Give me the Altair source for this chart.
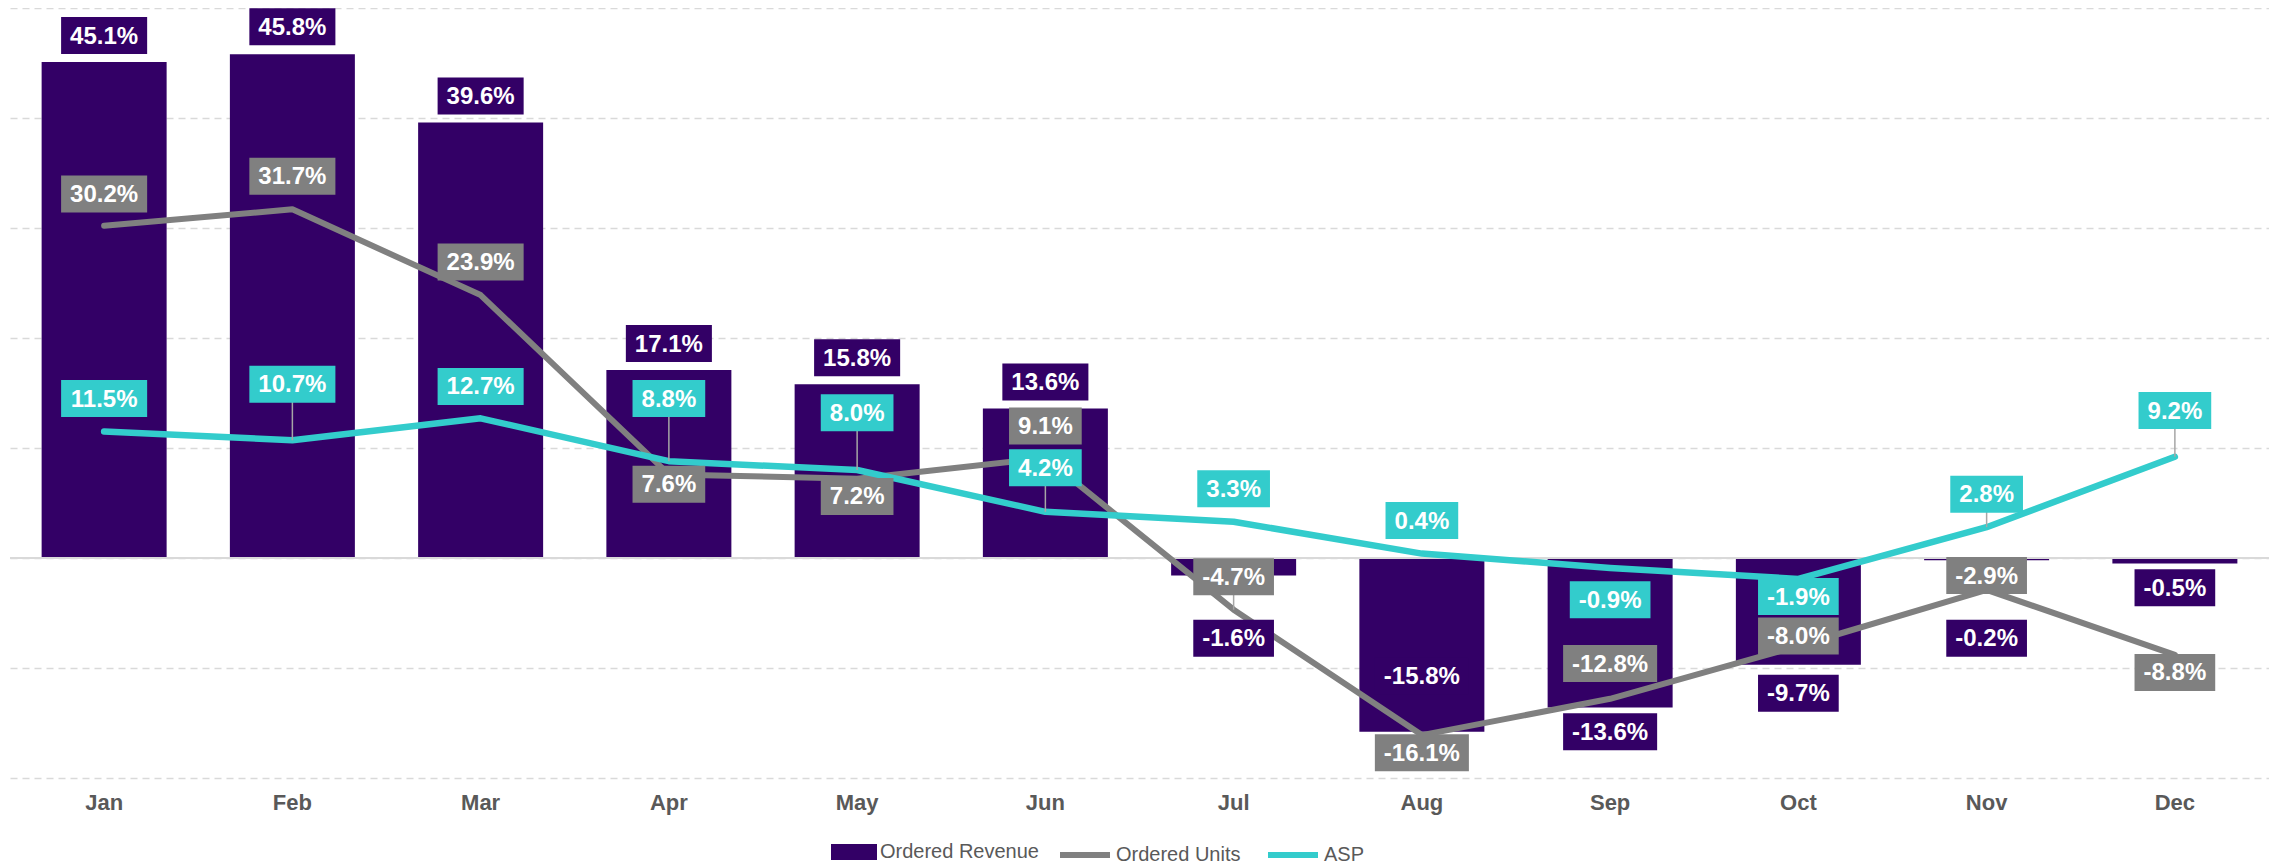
import altair as alt
import pandas as pd

months = ["Jan", "Feb", "Mar", "Apr", "May", "Jun", "Jul", "Aug", "Sep", "Oct", "Nov", "Dec"]
series_names = ["Ordered Revenue", "Ordered Units", "ASP"]
series_colors = ["#330066", "#808080", "#33CCCC"]

revenue = [45.1, 45.8, 39.6, 17.1, 15.8, 13.6, -1.6, -15.8, -13.6, -9.7, -0.2, -0.5]
units = [30.2, 31.7, 23.9, 7.6, 7.2, 9.1, -4.7, -16.1, -12.8, -8.0, -2.9, -8.8]
asp = [11.5, 10.7, 12.7, 8.8, 8.0, 4.2, 3.3, 0.4, -0.9, -1.9, 2.8, 9.2]

# where each data label sits (in % units), as placed in the original
revenue_label_at = [47.5, 48.3, 42.0, 19.5, 18.2, 16.0, -7.3, -10.7, -15.8, -12.3, -7.3, -2.7]
units_label_at = [33.1, 34.7, 26.9, 6.7, 5.6, 12.0, -1.7, -17.7, -9.6, -7.1, -1.6, -10.4]
asp_label_at = [14.5, 15.8, 15.6, 14.5, 13.2, 8.2, 6.3, 3.4, -3.8, -3.5, 5.8, 13.4]

# labels drawn with a leader line
units_leaders = ["Jul", "Nov"]
asp_leaders = ["Feb", "Apr", "May", "Jun", "Nov", "Dec"]

FONT = "Liberation Sans"
LABEL_SIZE = 24
CHAR_EM = {"-": 0.333, ".": 0.278, "%": 0.889}


def box_path(text):
    w = sum(CHAR_EM.get(c, 0.556) for c in text) * LABEL_SIZE + 18
    h = 37
    return f"M{-w/2},{-h/2}L{w/2},{-h/2}L{w/2},{h/2}L{-w/2},{h/2}Z"


rows = []
for name, vals, lab, leaders in [
    ("Ordered Revenue", revenue, revenue_label_at, []),
    ("Ordered Units", units, units_label_at, units_leaders),
    ("ASP", asp, asp_label_at, asp_leaders),
]:
    for m, v, ly in zip(months, vals, lab):
        txt = f"{v:.1f}%"
        rows.append({"month": m, "series": name, "value": v, "label": txt,
                     "label_y": ly, "leader": m in leaders, "box": box_path(txt)})
df = pd.DataFrame(rows)

yscale = alt.Scale(domain=[-20, 50], nice=False, zero=False)
yaxis = alt.Axis(title=None, labels=False, ticks=False, domain=False,
                 values=[-20, -10, 0, 10, 20, 30, 40, 50], grid=True,
                 gridDash=[7, 5], gridColor="#d9d9d9", gridWidth=1.5)
xenc = alt.X("month:N", sort=months, title=None,
             scale=alt.Scale(paddingInner=0, paddingOuter=0),
             axis=alt.Axis(labelAngle=0, ticks=False, domain=False, grid=False,
                           labelFont=FONT, labelFontSize=22, labelFontWeight="bold",
                           labelColor="#595959", labelPadding=14))

legend_common = dict(orient="none", direction="horizontal", title=None,
                     labelFont=FONT, labelFontSize=20, labelColor="#595959",
                     labelOffset=3, columnPadding=15, padding=0)

bar_legend = alt.Legend(legendX=821, legendY=821, symbolType="M-1,-0.35L1,-0.35L1,0.35L-1,0.35Z",
                        symbolSize=2116, symbolStrokeWidth=0, **legend_common)
line_legend = alt.Legend(legendX=1047, legendY=819, symbolType="stroke", symbolSize=2500,
                         symbolStrokeWidth=6, values=series_names[1:], **legend_common)

base = alt.Chart(df)

bars = base.transform_filter(alt.datum.series == "Ordered Revenue").mark_bar(width=125).encode(
    x=xenc, y=alt.Y("value:Q", scale=yscale, axis=yaxis),
    color=alt.Color("series:N", scale=alt.Scale(domain=series_names[:1], range=series_colors[:1]),
                    legend=bar_legend))

zero = base.mark_rule(color="#d9d9d9", strokeWidth=2).encode(y=alt.Y(datum=0, scale=yscale, axis=yaxis))

lines = base.transform_filter(alt.datum.series != "Ordered Revenue").mark_line(
    strokeCap="round", strokeJoin="round").encode(
    x=xenc, y=alt.Y("value:Q", scale=yscale, axis=yaxis),
    color=alt.Color("series:N", scale=alt.Scale(domain=series_names[1:], range=series_colors[1:]),
                    legend=line_legend),
    strokeWidth=alt.StrokeWidth("series:N", scale=alt.Scale(domain=series_names[1:], range=[6, 6.5]),
                                legend=None))

leaders = base.transform_filter(alt.datum.leader).mark_rule(color="#a6a6a6", strokeWidth=1.5).encode(
    x=xenc, y=alt.Y("value:Q", scale=yscale, axis=yaxis), y2="label_y:Q")

label_layers = []
for name, col in zip(series_names, series_colors):
    sub = base.transform_filter(alt.datum.series == name)
    boxes = sub.mark_point(filled=True, opacity=1, size=4, color=col, strokeWidth=0).encode(
        x=xenc, y=alt.Y("label_y:Q", scale=yscale, axis=yaxis),
        shape=alt.Shape("box:N", scale=None, legend=None))
    texts = sub.mark_text(font=FONT, fontSize=LABEL_SIZE, fontWeight="bold", color="white",
                          baseline="middle", align="center", dy=1).encode(
        x=xenc, y=alt.Y("label_y:Q", scale=yscale, axis=yaxis), text="label:N")
    label_layers += [boxes, texts]

chart = alt.layer(bars, zero, lines, leaders, *label_layers).resolve_scale(
    color="independent"
).properties(
    width=2259, height=770,
    background="white",
    autosize=alt.AutoSizeParams(type="none"),
    padding={"left": 2, "top": 0, "right": 0, "bottom": 86},
).configure_view(stroke=None)

chart.save("out.html", embed_options={"renderer": "svg", "actions": False})
